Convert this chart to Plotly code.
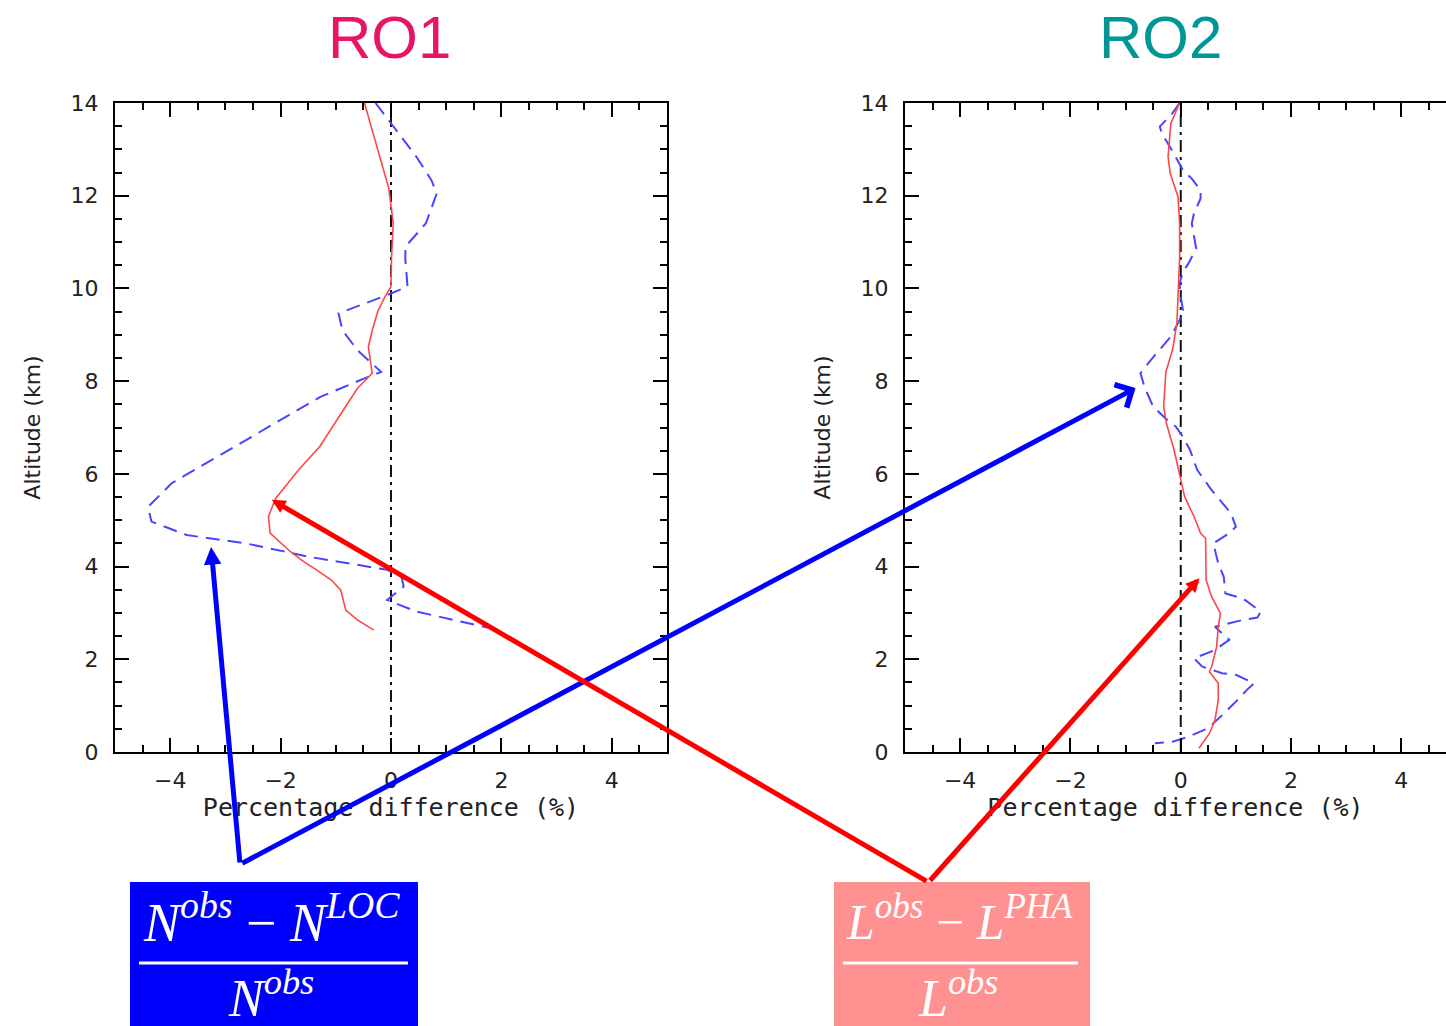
import plotly.graph_objects as go

# ---------------- data ----------------
ro1_loc_alt = [14.0, 13.56, 12.84, 12.34, 12.05, 11.40, 10.90, 10.61, 10.04, 9.89, 9.46, 9.10, 8.67,
               8.20, 8.06, 7.66, 7.02, 6.41, 5.80, 5.29, 4.97, 4.68, 4.50, 4.21, 3.93, 3.78, 3.57,
               3.28, 3.03, 2.67]
ro1_loc_pct = [-0.28, 0.0, 0.46, 0.73, 0.83, 0.63, 0.26, 0.26, 0.30, 0.0, -0.95, -0.88, -0.61,
               -0.18, -0.48, -1.28, -2.22, -3.09, -3.97, -4.40, -4.34, -3.70, -2.63, -1.48, -0.07,
               0.19, 0.23, -0.07, 0.46, 1.80]

ro1_pha_alt = [14.0, 12.16, 11.40, 10.68, 10.04, 9.82, 9.50, 9.10, 8.74, 8.17, 7.84, 7.09, 6.59,
               6.08, 5.47, 5.08, 4.72, 4.32, 4.14, 3.93, 3.71, 3.49, 3.06, 2.85, 2.63]
ro1_pha_pct = [-0.48, -0.04, 0.04, 0.01, 0.0, -0.11, -0.24, -0.34, -0.41, -0.34, -0.61, -1.01, -1.29,
               -1.68, -2.09, -2.22, -2.19, -1.82, -1.62, -1.35, -1.08, -0.91, -0.82, -0.61, -0.31]

ro2_loc_alt = [14.0, 13.78, 13.49, 13.34, 13.02, 12.84, 12.55, 12.37, 12.12, 11.94, 11.62, 11.40,
               11.04, 10.86, 10.54, 10.36, 10.11, 9.89, 9.53, 9.32, 8.96, 8.46, 8.17, 7.88, 7.45,
               7.20, 7.02, 6.80, 6.51, 6.08, 5.65, 5.15, 4.86, 4.72, 4.50, 4.07, 3.78, 3.42, 3.31,
               3.03, 2.90, 2.85, 2.70, 2.42, 2.20, 2.02, 1.84, 1.70, 1.66, 1.48, 1.34, 1.05, 0.76,
               0.51, 0.33, 0.22, 0.19]
ro2_loc_pct = [-0.02, -0.15, -0.38, -0.34, -0.18, -0.09, 0.04, 0.20, 0.36, 0.36, 0.24, 0.20,
               0.25, 0.28, 0.14, 0.04, -0.02, -0.01, 0.04, -0.02, -0.18, -0.54, -0.73, -0.66, -0.50,
               -0.28, -0.09, 0.04, 0.17, 0.30, 0.56, 0.91, 1.0, 0.88, 0.59, 0.68, 0.78, 0.81, 1.13,
               1.45, 1.39, 1.13, 0.62, 0.88, 0.62, 0.24, 0.39, 0.75, 1.01, 1.33, 1.20, 0.97, 0.72,
               0.49, 0.14, -0.15, -0.47]

ro2_pha_alt = [14.0, 13.56, 12.84, 12.48, 11.98, 11.40, 10.68, 9.97, 9.25, 8.67, 8.20, 7.45, 7.09,
               6.51, 5.94, 5.51, 5.08, 4.72, 4.61, 4.14, 3.71, 3.35, 2.99, 2.70, 2.27, 1.84, 1.73,
               1.48, 1.12, 0.69, 0.40, 0.08]
ro2_pha_pct = [-0.02, -0.18, -0.23, -0.19, -0.05, -0.02, -0.02, -0.04, -0.07, -0.15, -0.27, -0.31,
               -0.26, -0.12, -0.01, 0.07, 0.24, 0.36, 0.45, 0.46, 0.46, 0.56, 0.72, 0.68, 0.65, 0.56,
               0.52, 0.68, 0.68, 0.62, 0.52, 0.33]

zero_line_x = [0, 0]
zero_line_y = [0, 14]

panel_titles = ["RO1", "RO2"]
x_title = "Percentage difference (%)"
y_title = "Altitude (km)"

# arrow targets (data coordinates in the panels)
blue_target_ro1 = (-3.26, 4.42)
blue_target_ro2 = (-0.82, 7.85)
red_target_ro1 = (-2.16, 5.44)
red_target_ro2 = (0.34, 3.75)

# ---------------- figure ----------------
W, H = 1446, 1026


def px(x):
    return x / W


def py(y):
    return 1 - y / H


fig = go.Figure()

BLUE = "rgb(70,70,255)"
RED = "rgb(255,70,70)"

for (xa, ya, loc_x, loc_y, pha_x, pha_y) in [
    ("x", "y", ro1_loc_pct, ro1_loc_alt, ro1_pha_pct, ro1_pha_alt),
    ("x2", "y2", ro2_loc_pct, ro2_loc_alt, ro2_pha_pct, ro2_pha_alt),
]:
    fig.add_trace(go.Scatter(x=zero_line_x, y=zero_line_y, mode="lines", xaxis=xa, yaxis=ya,
                             line=dict(color="#111", width=2, dash="12px,5px,3px,5px"),
                             showlegend=False, hoverinfo="skip"))
    fig.add_trace(go.Scatter(x=loc_x, y=loc_y, mode="lines", xaxis=xa, yaxis=ya,
                             line=dict(color=BLUE, width=2, dash="14px,8px"),
                             showlegend=False))
    fig.add_trace(go.Scatter(x=pha_x, y=pha_y, mode="lines", xaxis=xa, yaxis=ya,
                             line=dict(color=RED, width=1.6),
                             showlegend=False))

tickfont = dict(family="DejaVu Sans", size=22, color="#222")
xtitlefont = dict(family="DejaVu Sans Mono", size=25, color="#222")
ytitlefont = dict(family="DejaVu Sans", size=22, color="#222")

common_x = dict(range=[-5, 5], dtick=2, tick0=0, ticks="inside", ticklen=14, tickwidth=2,
                tickcolor="black", showline=True, linecolor="black", linewidth=2,
                showgrid=False, zeroline=False, tickfont=tickfont, automargin=False,
                minor=dict(ticks="inside", ticklen=7, tickwidth=2, dtick=0.5, tick0=0,
                           tickcolor="black", showgrid=False),
                title=dict(text=x_title, font=xtitlefont, standoff=6),
                ticklabelstandoff=8)
common_y = dict(range=[0, 14], dtick=2, tick0=0, ticks="inside", ticklen=14, tickwidth=2,
                tickcolor="black", showline=True, linecolor="black", linewidth=2,
                showgrid=False, zeroline=False, tickfont=tickfont, automargin=False,
                minor=dict(ticks="inside", ticklen=7, tickwidth=2, dtick=0.5, tick0=0,
                           tickcolor="black", showgrid=False),
                title=dict(text=y_title, font=ytitlefont, standoff=24),
                ticklabelstandoff=10)

y_dom = [py(752), py(103)]

fig.update_layout(
    width=W, height=H,
    margin=dict(l=0, r=0, t=0, b=0, autoexpand=False),
    paper_bgcolor="white", plot_bgcolor="white",
    xaxis=dict(common_x, domain=[px(115), px(667)], anchor="y", mirror="ticks"),
    yaxis=dict(common_y, domain=y_dom, anchor="x", mirror="ticks"),
    xaxis2=dict(common_x, domain=[px(905), 1.0], anchor="y2", mirror="ticks",
                range=[-5, -5 + (W - 905) / 55.15]),
    yaxis2=dict(common_y, domain=y_dom, anchor="x2"),
)

# titles
fig.add_annotation(text=panel_titles[0], xref="paper", yref="paper", x=px(389), y=py(38),
                   xanchor="center", yanchor="middle", showarrow=False,
                   font=dict(family="Liberation Sans", size=60, color="rgb(232,20,100)"))
fig.add_annotation(text=panel_titles[1], xref="paper", yref="paper", x=px(1160), y=py(38),
                   xanchor="center", yanchor="middle", showarrow=False,
                   font=dict(family="Liberation Sans", size=60, color="rgb(0,150,150)"))

# formula boxes
fig.add_shape(type="rect", xref="paper", yref="paper", x0=px(130), x1=px(418), y0=py(1030),
              y1=py(882), fillcolor="rgb(0,0,255)", line=dict(width=0), layer="below")
fig.add_shape(type="rect", xref="paper", yref="paper", x0=px(834), x1=px(1090), y0=py(1030),
              y1=py(882), fillcolor="rgb(255,145,145)", line=dict(width=0), layer="below")
fig.add_shape(type="line", xref="paper", yref="paper", x0=px(139), x1=px(408), y0=py(963),
              y1=py(963), line=dict(color="white", width=3), layer="below")
fig.add_shape(type="line", xref="paper", yref="paper", x0=px(843), x1=px(1078), y0=py(963),
              y1=py(963), line=dict(color="white", width=3), layer="below")

for txt, cx, cy, fs in [
    ("<i>N</i><sup><i>obs</i></sup> − <i>N</i><sup><i>LOC</i></sup>", 271, 918, 54),
    ("<i>N</i><sup><i>obs</i></sup>", 271, 994, 52),
    ("<i>L</i><sup><i>obs</i></sup> − <i>L</i><sup><i>PHA</i></sup>", 959, 918, 50),
    ("<i>L</i><sup><i>obs</i></sup>", 958, 994, 52),
]:
    fig.add_annotation(text=txt, xref="paper", yref="paper", x=px(cx), y=py(cy),
                       xanchor="center", yanchor="middle", showarrow=False,
                       font=dict(family="Liberation Serif", size=fs, color="white"))

# arrows
blue_tail = (242, 864)
red_tail = (930, 882)


def to_px(panel, pt):
    x, y = pt
    if panel == 1:
        return 393 + 55.2 * x, 752 - 46.36 * y
    return 1182 + 55.2 * x, 752 - 46.36 * y


for panel, tgt, tail, color, head, size in [
    (1, blue_target_ro1, blue_tail, "rgb(0,0,255)", 2, 0.7),
    (2, blue_target_ro2, blue_tail, "rgb(0,0,255)", 4, 1.0),
    (1, red_target_ro1, red_tail, "rgb(255,0,0)", 2, 0.55),
    (2, red_target_ro2, red_tail, "rgb(255,0,0)", 2, 0.55),
]:
    hx, hy = to_px(panel, tgt)
    fig.add_annotation(x=tgt[0], y=tgt[1], xref="x" if panel == 1 else "x2",
                       yref="y" if panel == 1 else "y2", text="", showarrow=True,
                       ax=tail[0] - hx, ay=tail[1] - hy, arrowcolor=color, arrowwidth=5,
                       arrowhead=head, arrowsize=size, standoff=0)

fig.write_html("out.html")
